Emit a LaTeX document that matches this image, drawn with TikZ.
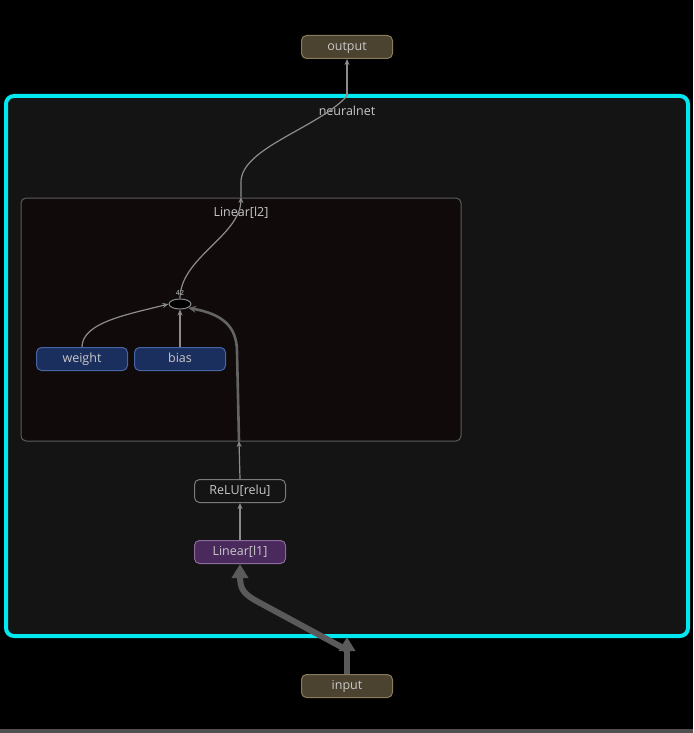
\documentclass[tikz,border=0pt]{standalone}
\usepackage{fontspec}
\setmainfont{Open Sans}
\usetikzlibrary{arrows.meta,shapes.geometric}
\definecolor{barc}{HTML}{505050}
\definecolor{cyanb}{HTML}{00E8F0}
\definecolor{outerfill}{HTML}{141414}
\definecolor{innerfill}{HTML}{110A0B}
\definecolor{innerdraw}{HTML}{5C5C5C}
\definecolor{txt}{HTML}{C8C8C8}
\definecolor{edgec}{HTML}{8C8C8C}
\definecolor{thickc}{HTML}{5A5A5A}
\definecolor{iofill}{HTML}{4B4230}
\definecolor{iodraw}{HTML}{8A7C5A}
\definecolor{l1fill}{HTML}{4A2A5C}
\definecolor{l1draw}{HTML}{8C6A9E}
\definecolor{relufill}{HTML}{141414}
\definecolor{reludraw}{HTML}{7A7A7A}
\definecolor{pfill}{HTML}{1B2F5E}
\definecolor{pdraw}{HTML}{4565A5}
\tikzset{
  box/.style={rounded corners=5pt, draw, line width=1pt, minimum width=91pt, minimum height=23pt, inner sep=0pt, text=txt, text height=9pt, text depth=2.5pt},
  iobox/.style={box, fill=iofill, draw=iodraw},
  l1box/.style={box, fill=l1fill, draw=l1draw},
  relubox/.style={box, fill=relufill, draw=reludraw},
  parbox/.style={box, fill=pfill, draw=pdraw},
  grplabel/.style={text=txt, inner sep=0pt},
  edge/.style={draw=edgec, line width=1.2pt, -{Stealth[length=6pt,width=5pt]}},
  plainedge/.style={draw=edgec, line width=1.2pt},
  midedge/.style={draw=thickc!80!edgec, line width=2.6pt, -{Stealth[length=8pt,width=7pt]}},
  bigedge/.style={draw=thickc, line width=6pt, -{Triangle[length=14pt,width=16pt]}},
  bigline/.style={draw=thickc, line width=6pt},
}
\begin{document}
\begin{tikzpicture}[x=1pt, y=-1pt, font=\fontsize{12.5}{14}\selectfont]
\useasboundingbox (0,0) rectangle (693,733);
\fill[black] (0,0) rectangle (693,733);
\fill[barc] (0,729) rectangle (693,733);
% outer group
\draw[cyanb, line width=4pt, rounded corners=8pt, fill=outerfill] (6,96) rectangle (688,636);
\node[grplabel] (nnlabel) at (347,111) {neuralnet};
% inner group
\draw[innerdraw, line width=1pt, rounded corners=5pt, fill=innerfill] (21,198) rectangle (461,441);
\node[grplabel] (l2label) at (241,213) {Linear[l2]};
% nodes
\node[iobox] (output) at (347,47) {output};
\node[iobox] (input) at (347,686) {input};
\node[l1box] (l1) at (240,552) {Linear[l1]};
\node[relubox] (relu) at (240,491) {ReLU[relu]};
\node[parbox] (weight) at (82,359) {weight};
\node[parbox] (bias) at (180,359) {bias};
\node[ellipse, draw=edgec, fill=black, line width=1pt, minimum width=22pt, minimum height=10pt, inner sep=0pt] (op) at (180,304) {};
\node[text=txt, font=\fontsize{7}{8}\selectfont, inner sep=0pt] (oplabel) at (180,293) {42};
% coordinates
\coordinate (inb) at (347,637);
\coordinate (inb2) at (347,650);
\coordinate (l2t) at (241,197);
\coordinate (nnb) at (347,96);
\coordinate (l2b) at (239,441);
% edges
\draw[bigline] (inb2) -- (262,604) .. controls (243,594) and (240,590) .. (240,575);
\draw[bigedge] (240,580) -- (l1.south);
\draw[bigedge] (input.north) -- (inb);
\draw[edge] (l1.north) -- (relu.south);
\draw[edge] (relu.north) -- (l2b);
\draw[midedge] (l2b) -- (237,352) .. controls (237,326) and (222,314) .. (op.south east);
\draw[edge] (weight.north) .. controls (82,322) and (130,314) .. (op.west);
\draw[edge] (bias.north) -- (op.south);
\draw[edge] (op.north) .. controls (180,258) and (240,236) .. (l2t);
\draw[plainedge] (l2t) -- (241,182) .. controls (241,148) and (318,128) .. (nnb);
\draw[edge] (nnb) -- (output.south);
\end{tikzpicture}
\end{document}
